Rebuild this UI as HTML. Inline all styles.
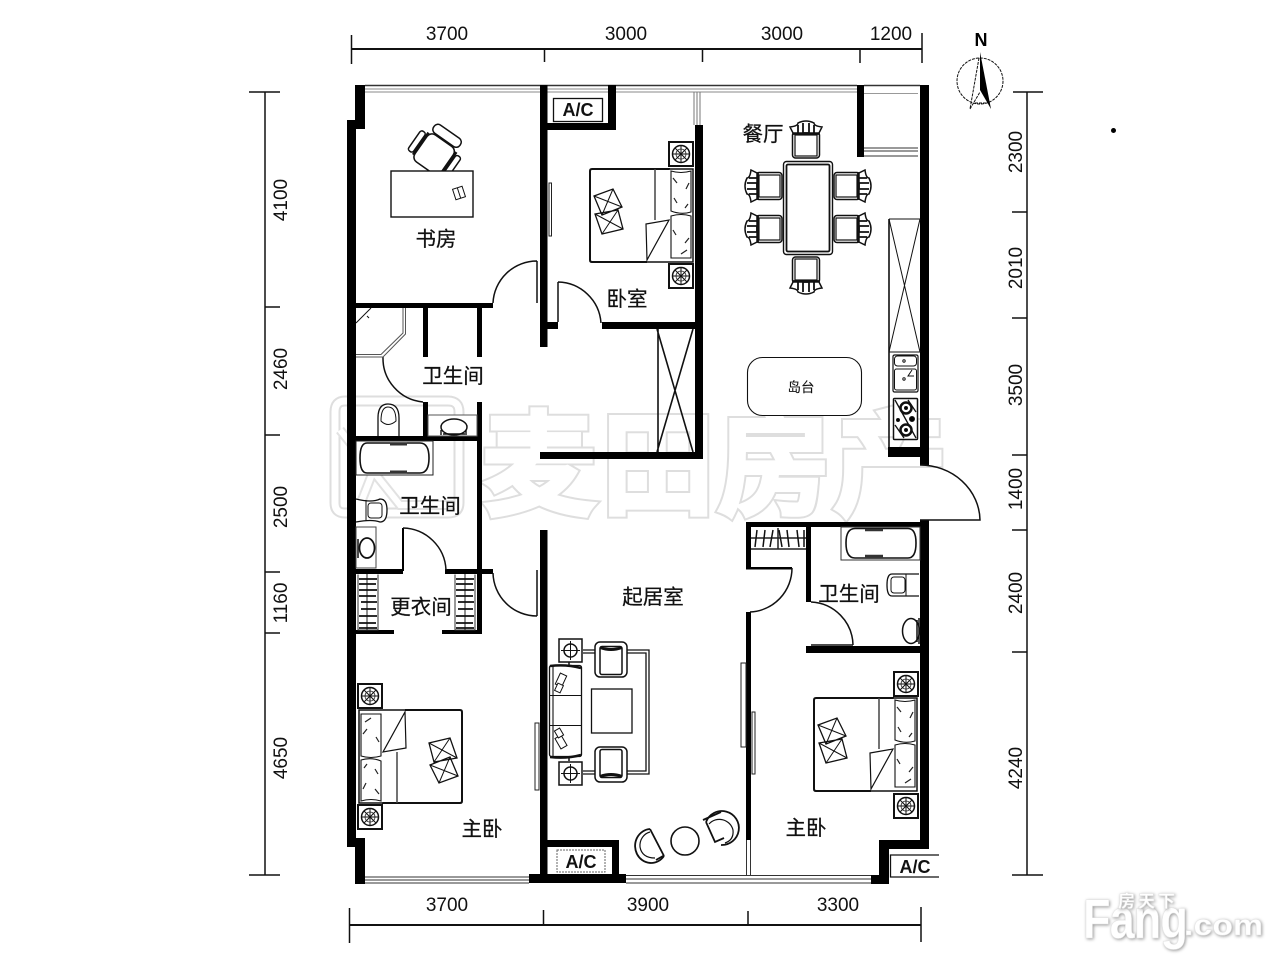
<!DOCTYPE html>
<html lang="zh"><head><meta charset="utf-8"><title>Floor plan</title>
<style>
html,body{margin:0;padding:0;background:#fff;width:1280px;height:960px;overflow:hidden}
svg{display:block}
.d{font:19px "Liberation Sans",sans-serif;fill:#111;text-anchor:middle}
.c{font:20.5px "Liberation Sans","Noto Sans CJK SC",sans-serif;fill:#111;stroke:#111;stroke-width:.25;text-anchor:middle}
.w{font-family:"Liberation Sans","Noto Sans CJK SC",sans-serif;font-size:112px;font-weight:500;stroke-linejoin:miter}
.w1{fill:#dedede;stroke:#dedede;stroke-width:10}
.w2{fill:#fff;stroke:#fff;stroke-width:6}
.ac{font:bold 18px "Liberation Sans",sans-serif;fill:#111;text-anchor:middle}
.fang{font-family:"Liberation Sans",sans-serif;font-weight:700;fill:#fff;stroke:#e4e4e4;stroke-width:.5;filter:drop-shadow(1px 1px 1.5px #999)}
</style></head><body>
<svg width="1280" height="960" viewBox="0 0 1280 960" xmlns="http://www.w3.org/2000/svg">
<defs>
<g id="ns"><rect x="1" y="1" width="24" height="24" fill="#fff" stroke="#111" stroke-width="2"/><circle cx="13" cy="13" r="8.500" fill="none" stroke="#111" stroke-width="1.500"/><circle cx="13" cy="13" r="5" fill="none" stroke="#333" stroke-width=".8"/><path d="M13 4.500V21.500M4.500 13H21.500M7 7L19 19M19 7L7 19" stroke="#111" stroke-width="1"/></g>
<g id="bed">
<path d="M81 1H3Q1 1 1 3V92Q1 94 3 94H58" fill="#fff" stroke="#111" stroke-width="2"/>
<path d="M58 94H104V1H81" fill="#fff" stroke="#111" stroke-width="1.500"/>
<path d="M66 1V52" stroke="#444" stroke-width="1.500"/>
<path d="M82 3Q92 6 102 3V44Q92 47 82 43ZM82 48Q92 45 102 48V90H82Z" fill="#fff" stroke="#111" stroke-width="1.100"/>
<path d="M84 10l4 5M100 15l-3 6M85 30l3 5M99 36l-3 4M100 70l-4 5M84 62l3 5M98 82l-6 4" stroke="#222" stroke-width="1.200" fill="none"/>
<path d="M57 56L80 52L58 92Z" fill="#fff" stroke="#111" stroke-width="1.200"/>
<path d="M5 28L24 21L33 39L13 47ZM6 46L29 42L34 61L13 66Z" fill="#fff" stroke="#111" stroke-width="1.300"/>
<path d="M5 28L33 39M24 21L13 47M6 46L34 61M29 42L13 66" stroke="#111" stroke-width="1"/>
</g>
<g id="din">
<rect x="-13.500" y="-8" width="27" height="26" rx="3" fill="#fff" stroke="#111" stroke-width="1.500"/>
<rect x="-11" y="-5" width="22" height="21" fill="none" stroke="#111" stroke-width="1.200"/>
<path d="M-16 -13Q-8 -14 -8 -17Q0 -21 8 -17Q8 -14 16 -13L13 -7H-13Z" fill="#fff" stroke="#111" stroke-width="1.500"/>
<path d="M-8 -15V-5M8 -15V-5M-3 -17V-7H3V-17M-13 -6H13" stroke="#111" stroke-width="1.800" fill="none"/>
</g>
<g id="arm">
<rect x="-16" y="-17.500" width="32" height="35" rx="5" fill="#fff" stroke="#111" stroke-width="1.500"/>
<rect x="-11" y="-13" width="22" height="28" rx="2" fill="#fff" stroke="#111" stroke-width="1.500"/>
<path d="M-11 -12Q0 -8 11 -12" stroke="#111" stroke-width="3" fill="none"/>
</g>
<g id="lamp"><rect x="1" y="1" width="23" height="23" fill="#fff" stroke="#111" stroke-width="1.500"/><circle cx="12.500" cy="12.500" r="6.500" fill="none" stroke="#111" stroke-width="1.500"/><path d="M12.500 3V22M3 12.500H22" stroke="#111" stroke-width="1"/></g>
<g id="hang"><path d="M1 3H19M1 8H18M1 14H19M1 20H18M3 26H19M3 33H18M1 40H19M1 47H18M1 52H19" stroke="#111" stroke-width="1.700"/></g>
</defs>

<!-- watermark -->
<g>
<path d="M345 401H448Q459 401 459 412V503Q459 513 448 513H345Q335 513 335 503V412Q335 401 345 401Z" fill="none" stroke="#dedede" stroke-width="11"/>
<path d="M345 401H448Q459 401 459 412V503Q459 513 448 513H345Q335 513 335 503V412Q335 401 345 401Z" fill="none" stroke="#fff" stroke-width="7"/>
<path d="M340 430L400 505L455 505M395 415L360 505" fill="none" stroke="#e2e2e2" stroke-width="10"/>
<path d="M340 430L400 505L455 505M395 415L360 505" fill="none" stroke="#fff" stroke-width="6"/>
<g class="w w1"><text x="483" y="505">麦</text><text x="602" y="505">田</text><text x="718" y="505">房</text><text x="834" y="505">产</text></g>
<g class="w w2"><text x="483" y="505">麦</text><text x="602" y="505">田</text><text x="718" y="505">房</text><text x="834" y="505">产</text></g>
</g>

<!-- dimensions -->
<g stroke="#111" fill="none">
<path d="M352 49H922" stroke-width="2"/>
<path d="M351.500 35V64M544.500 49V62M702.500 49V62M860 49V63M922 33V63" stroke-width="1.500"/>
<path d="M350 925H921" stroke-width="2"/>
<path d="M349.500 908V943M543.500 910V925M748 911V925M921 907V942" stroke-width="1.500"/>
<path d="M265 92V875" stroke-width="1.500"/>
<path d="M249 92H280M265 307H280M265 435H280M265 572H280M265 633H280M249 875H280" stroke-width="1.500"/>
<path d="M1027 92V875" stroke-width="1.500"/>
<path d="M1013 92H1043M1012 212H1027M1012 318H1027M1012 455H1027M1012 530H1027M1012 652H1027M1012 875H1043" stroke-width="1.500"/>
</g>
<g class="d">
<text x="447" y="40">3700</text><text x="626" y="40">3000</text><text x="782" y="40">3000</text><text x="891" y="40">1200</text>
<text x="447" y="911">3700</text><text x="648" y="911">3900</text><text x="838" y="911">3300</text>
<text transform="translate(287,200) rotate(-90)">4100</text>
<text transform="translate(287,369) rotate(-90)">2460</text>
<text transform="translate(287,507) rotate(-90)">2500</text>
<text transform="translate(287,603) rotate(-90)">1160</text>
<text transform="translate(287,758) rotate(-90)">4650</text>
<text transform="translate(1022,152) rotate(-90)">2300</text>
<text transform="translate(1022,268) rotate(-90)">2010</text>
<text transform="translate(1022,385) rotate(-90)">3500</text>
<text transform="translate(1022,489) rotate(-90)">1400</text>
<text transform="translate(1022,593) rotate(-90)">2400</text>
<text transform="translate(1022,768) rotate(-90)">4240</text>
</g>

<!-- compass -->
<circle cx="980" cy="81" r="23" fill="none" stroke="#111" stroke-width="1" stroke-dasharray="3 1"/>
<path d="M980 52L991 109L980 90Z" fill="#000"/>
<path d="M979 58L970 109M970 109L980 92M975 103H986" stroke="#111" stroke-width="1" fill="none" stroke-dasharray="3 1"/>
<text x="981" y="46" style="font:bold 18px 'Liberation Sans',sans-serif" text-anchor="middle" fill="#000">N</text>
<circle cx="1113.500" cy="130.500" r="2.500" fill="#000"/>

<!-- glazing -->
<g stroke="#333" fill="none">
<path d="M365 85.500H857" stroke-width="1.600"/>
<path d="M365 89H857M365 92H857" stroke-width="1" stroke="#888"/>
<path d="M694 92V125M697 92V125M700 92V125" stroke-width="1" stroke="#777"/>
<path d="M864 85.500H920" stroke-width="1.500"/><path d="M864 93.500H918" stroke-width="1" stroke="#999"/>
<path d="M864 148H918M864 151H918M864 156H918" stroke-width="1"/>
<path d="M365 877H529M365 880H529M365 883H529" stroke-width="1.100"/>
<path d="M626 875.500H872M626 879H872M626 883H872" stroke-width="1.100"/>
<path d="M746.500 840V875M750.500 840V875" stroke-width="1"/>
</g>

<!-- walls -->
<g fill="#000">
<rect x="355" y="85" width="10" height="44"/><rect x="347" y="120" width="9" height="727"/>
<rect x="355" y="838" width="10" height="46"/>
<rect x="540" y="85" width="7.500" height="262"/>
<rect x="608" y="85" width="8" height="45"/><rect x="547" y="123" width="69" height="7"/>
<rect x="695" y="125" width="8" height="334"/>
<rect x="356" y="303" width="137" height="5"/>
<rect x="547" y="322" width="11" height="7"/><rect x="602" y="322" width="101" height="7"/>
<rect x="540" y="452" width="163" height="7"/>
<rect x="423" y="308" width="5" height="49"/><rect x="423" y="402" width="5" height="35"/>
<rect x="477" y="308" width="5" height="49"/><rect x="477" y="402" width="5" height="232"/>
<rect x="356" y="436" width="126" height="5"/>
<rect x="356" y="569" width="47" height="5"/><rect x="445" y="569" width="48" height="5"/>
<rect x="402" y="528" width="2" height="43"/>
<rect x="356" y="630" width="38" height="4"/><rect x="442" y="630" width="40" height="4"/>
<rect x="540" y="530" width="7.500" height="345"/>
<rect x="547" y="840" width="72" height="7"/><rect x="612" y="840" width="7" height="36"/>
<rect x="529" y="874" width="97" height="9"/>
<rect x="857" y="85" width="7" height="72"/>
<rect x="920" y="85" width="9" height="380"/>
<rect x="888" y="447" width="32" height="10"/>
<rect x="746" y="522" width="5" height="46"/><rect x="746" y="567" width="46" height="2.500"/>
<rect x="746" y="612" width="5" height="228"/>
<rect x="746" y="522" width="174" height="5"/>
<rect x="806" y="527" width="5" height="75"/>
<rect x="806" y="646" width="114" height="7"/>
<rect x="920" y="520" width="9" height="329"/>
<rect x="879" y="840" width="50" height="9"/><rect x="879" y="840" width="10" height="44"/>
<rect x="871" y="875" width="18" height="9"/>
</g>

<!-- doors -->
<g fill="none" stroke="#111" stroke-width="1.500">
<path d="M537 261A44 44 0 0 0 493 303M537 261V303"/>
<path d="M558 282V322M558 282A44 44 0 0 1 601 323"/>
<path d="M383 357A44 44 0 0 0 423 402"/>
<path d="M403 528A44 44 0 0 1 446 570"/>
<path d="M493 573A44 44 0 0 0 537 616M537 570V616"/>
<path d="M792 568A44 44 0 0 1 750 612"/>
<path d="M811 602A44 44 0 0 1 853 645M811 645H853"/>
<path d="M920 465A60 56 0 0 1 980 520H920"/>
</g>

<!-- windows on walls -->
<g fill="#fff" stroke="#222" stroke-width="1">
<rect x="549" y="183" width="2.500" height="53"/>
<rect x="535" y="723" width="4" height="67"/>
<rect x="741" y="663" width="5" height="84"/>
<rect x="752" y="712" width="3" height="62"/>
</g>

<!-- A/C -->
<rect x="553.500" y="98.500" width="49" height="23" fill="#fff" stroke="#111" stroke-width="1.300"/><text class="ac" x="578" y="116" textLength="31" lengthAdjust="spacingAndGlyphs">A/C</text>
<rect x="557" y="850" width="48" height="22" fill="#fff" stroke="#666" stroke-width="1" stroke-dasharray="2 1"/><text class="ac" x="581" y="868" textLength="31" lengthAdjust="spacingAndGlyphs">A/C</text>
<path d="M939 855H890.500V877H939" fill="#fff" stroke="#111" stroke-width="1.300"/><text class="ac" x="915" y="873" textLength="31" lengthAdjust="spacingAndGlyphs">A/C</text>

<!-- study -->
<g transform="translate(435,153) rotate(35)" fill="#fff" stroke="#111" stroke-width="1.500">
<rect x="-16" y="-15" width="32" height="33" rx="6"/>
<rect x="-16" y="-26" width="32" height="10" rx="4.500"/>
<rect x="-24.500" y="-11" width="6" height="24" rx="2.500"/><rect x="18.500" y="-11" width="6" height="24" rx="2.500"/>
<path d="M-17 -13V14M17 -13V14" stroke-width="2.500"/>
</g>
<rect x="391" y="171" width="82" height="46" fill="#fff" stroke="#111" stroke-width="1.400"/>
<g transform="translate(459,193) rotate(-18)" fill="none" stroke="#111"><rect x="-5" y="-5.500" width="10" height="11"/><path d="M0 -5.500V5.500"/></g>

<!-- kitchen / dining -->
<path d="M889 219H920M889 219V447M889 352H920M889 219L920 352M920 219L889 352" fill="none" stroke="#111" stroke-width="1"/>
<path d="M889 219V447" stroke="#111" stroke-width="1.600"/>
<rect x="783.500" y="161.500" width="49" height="93" rx="3" fill="#fff" stroke="#111" stroke-width="1.400"/>
<rect x="786.500" y="164.500" width="43" height="87" rx="1.500" fill="none" stroke="#111" stroke-width="1.800"/>
<use href="#din" transform="translate(806,140)"/>
<use href="#din" transform="translate(806,275) rotate(180)"/>
<use href="#din" transform="translate(764,186) rotate(-90)"/>
<use href="#din" transform="translate(764,229) rotate(-90)"/>
<use href="#din" transform="translate(852,186) rotate(90)"/>
<use href="#din" transform="translate(852,229) rotate(90)"/>
<rect x="747.500" y="357.500" width="114" height="58" rx="15" fill="#fff" stroke="#111" stroke-width="1.100"/>
<g fill="#fff" stroke="#111">
<rect x="893" y="355" width="25" height="37" rx="1.500" stroke-width="1.200"/>
<rect x="894.500" y="356" width="22" height="10" rx="3" stroke-width="1"/>
<rect x="894.500" y="369" width="22" height="21" rx="2" stroke-width="1"/>
<circle cx="904" cy="361" r="1.200"/><circle cx="904" cy="379" r="1.200"/>
<path d="M912 370L908 376H914" fill="none"/>
<rect x="893.500" y="398.500" width="24" height="41" rx="1" stroke-width="1.500"/>
<path d="M895 400L916 438M895 425L904 438M908 400L916 412" stroke-width="1.300"/>
<circle cx="906" cy="408" r="5.500" stroke-width="2.500"/><circle cx="906" cy="408" r="1.500" fill="#000"/>
<circle cx="906" cy="430" r="5.500" stroke-width="2.500"/><circle cx="906" cy="430" r="1.500" fill="#000"/>
<circle cx="898" cy="420" r="1.500" fill="#000"/><circle cx="912" cy="419" r="2.500" fill="#000"/>
</g>

<!-- bedroom 1 -->
<use href="#bed" x="589" y="168"/>
<use href="#ns" x="668" y="141"/><use href="#ns" x="668" y="263"/>
<!-- wardrobe -->
<path d="M658 329V452M657 329L693 452M693 329L657 452" fill="none" stroke="#111" stroke-width="1.600"/>

<!-- bath 1 -->
<g fill="none" stroke="#555" stroke-width="1">
<path d="M403 308V333L381 354.500H356M405.500 308V334L383 357H356"/>
</g>
<path d="M356 323L371 308M367 316l2 2" stroke="#111" stroke-width="1" fill="none"/>
<path d="M378 436V418Q378 404 388 404Q399 404 399 418V436" fill="#fff" stroke="#111" stroke-width="1.300"/>
<path d="M381 421Q381 407 388 407Q396 407 396 421Q388 428 381 421Z" fill="#fff" stroke="#111" stroke-width="1"/>
<rect x="428" y="415" width="49" height="21" fill="#fff" stroke="#555" stroke-width="1"/>
<ellipse cx="454" cy="427" rx="13" ry="8" fill="#fff" stroke="#111" stroke-width="1.500"/><path d="M441 430V435M466 430V435M443 434H465" stroke="#111" stroke-width="1.400"/>

<!-- bath 2 -->
<rect x="356" y="441" width="77" height="34" fill="#fff" stroke="#222" stroke-width="1"/>
<path d="M367 443H420Q429 443 429 458Q429 473 420 473H367Q360 473 360 458Q360 443 367 443Z" fill="#fff" stroke="#111" stroke-width="1.600"/>
<path d="M390 444H407M390 472H407" stroke="#333" stroke-width="3"/>
<path d="M356 499Q372 503 380 499Q387 499 387 510Q387 522 380 522Q372 519 356 522" fill="#fff" stroke="#111" stroke-width="1.300"/>
<path d="M366 500V521" stroke="#111"/><rect x="368" y="503" width="14" height="15" rx="3" fill="#fff" stroke="#111"/>
<rect x="356" y="527" width="20" height="41" fill="#fff" stroke="#444" stroke-width="1"/>
<ellipse cx="367" cy="548" rx="7.500" ry="10" fill="#fff" stroke="#111" stroke-width="1.700"/><path d="M358 539V558" stroke="#111" stroke-width="1.500"/>

<!-- dressing -->
<path d="M358 574.500V630H378V574.500" fill="none" stroke="#333" stroke-width="1"/>
<path d="M455 574.500V630H475V574.500" fill="none" stroke="#333" stroke-width="1"/>
<path d="M367 574V630M465 574V630" stroke="#222" stroke-width="1"/>
<use href="#hang" x="358" y="576"/><use href="#hang" x="455" y="576"/>

<!-- bedroom 2 -->
<use href="#bed" transform="translate(463,804) rotate(180)"/>
<use href="#ns" x="357" y="683"/><use href="#ns" x="357" y="804"/>

<!-- living -->
<path d="M583 650H649V774H583M583 653H646V771H583" fill="none" stroke="#111" stroke-width="1.300"/>
<rect x="549.500" y="665.500" width="32" height="91" rx="2" fill="#fff" stroke="#111" stroke-width="1.300"/>
<path d="M549 695.500H581M549 725.500H581M553 666V757" stroke="#111" stroke-width="1.100" fill="none"/>
<path d="M550 666Q566 664 581 668M550 757Q566 759 581 755" stroke="#111" stroke-width="2.500" fill="none"/>
<g fill="#fff" stroke="#111" stroke-width="1"><rect x="-3.500" y="-6" width="7" height="12" transform="translate(561,680) rotate(25)"/><rect x="-3" y="-4" width="6" height="8" transform="translate(559,688) rotate(25)"/><rect x="-3.500" y="-6" width="7" height="12" transform="translate(561,742) rotate(-30)"/><rect x="-3" y="-4" width="6" height="8" transform="translate(559,733) rotate(-30)"/></g>
<use href="#lamp" x="558" y="638"/><use href="#lamp" x="558" y="761"/>
<path d="M569 662V666M569 757V761" stroke="#111" stroke-width="1.500"/>
<use href="#arm" x="611" y="659.500"/><use href="#arm" transform="translate(611,764.500) rotate(180)"/>
<rect x="591.500" y="689" width="40.500" height="44" fill="#fff" stroke="#111" stroke-width="1.300"/>
<circle cx="685" cy="841" r="14" fill="#fff" stroke="#111" stroke-width="1.600"/>
<g fill="none" stroke="#111">
<path d="M650 829A16 17 0 1 0 664 856" stroke-width="1.800"/><path d="M650 832A13 14 0 0 0 640 847Q642 858 655 858" stroke-width="1.200"/><path d="M650 829L664 856M656 860L663 856" stroke-width="1.800"/>
<path d="M706 822A17 17 0 1 1 721 845" stroke-width="1.800"/><path d="M709 824A14 14 0 0 1 733 830Q734 840 725 843" stroke-width="1.200"/><path d="M703 820L721 812M706 822L715 842L724 838" stroke-width="1.800"/>
</g>

<!-- bath 3 -->
<rect x="841" y="527" width="79" height="33" fill="none" stroke="#333" stroke-width="1"/>
<path d="M855 528.500H908Q916 528.500 916 543Q916 558 908 558H855Q846 558 846 543Q846 528.500 855 528.500Z" fill="#fff" stroke="#111" stroke-width="1.600"/>
<path d="M865 530H883M865 556H883" stroke="#333" stroke-width="2.500"/>
<path d="M919 574H892Q887 574 887 585Q887 596 892 596L905 596H919" fill="#fff" stroke="#111" stroke-width="1.300"/>
<rect x="891" y="577" width="14" height="16" rx="3" fill="#fff" stroke="#111"/><path d="M906 574V596" stroke="#111"/>
<ellipse cx="911" cy="631" rx="8.500" ry="12.500" fill="#fff" stroke="#111" stroke-width="1.500"/><path d="M917 620V642M919 618V644" stroke="#111" stroke-width="1.500"/>

<!-- closet -->
<path d="M751 549H806M751 538H806M778 528V549" stroke="#222" stroke-width="1.500" fill="none"/>
<path d="M757 530l-2 17M765 530l-2 17M773 530l-3 17M779 530l3 17M787 530l2 17M797 530l2 17M804 530v17" stroke="#111" stroke-width="1.500" fill="none"/>

<!-- bedroom 3 -->
<use href="#bed" x="813" y="697"/>
<use href="#ns" x="893" y="671"/><use href="#ns" x="893" y="793"/>

<!-- labels -->
<g class="c">
<text x="436" y="246">书房</text>
<text x="627" y="306">卧室</text>
<text x="763" y="141">餐厅</text>
<text x="453" y="383">卫生间</text>
<text x="430" y="513">卫生间</text>
<text x="421" y="614">更衣间</text>
<text x="653" y="604">起居室</text>
<text x="849" y="601">卫生间</text>
<text x="482" y="836">主卧</text>
<text x="806" y="835">主卧</text>
<text x="801" y="392" style="font-size:13.500px;stroke-width:.1">岛台</text>
</g>

<!-- site mark -->
<text class="fang" x="1083" y="938" style="font-size:56px;letter-spacing:-1px" textLength="104" lengthAdjust="spacingAndGlyphs">Fang</text>
<text class="fang" x="1184" y="935" style="font-size:30px" textLength="79" lengthAdjust="spacingAndGlyphs">.com</text>
<text class="fang" x="1118" y="907" style="font-size:17px;font-family:'Liberation Sans','Noto Sans CJK SC',sans-serif" textLength="57">房天下</text>
</svg>
</body></html>
